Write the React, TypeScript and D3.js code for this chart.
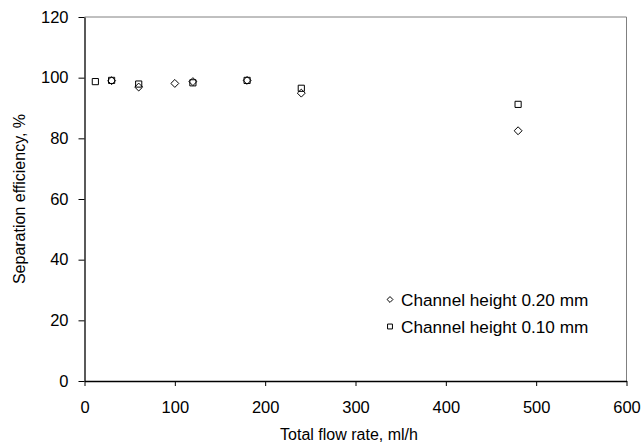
import React, { useEffect, useRef } from "react";
import * as d3 from "d3";

const flow020 = [30, 60, 100, 120, 180, 240, 480];
const eff020 = [99.0, 96.9, 98.1, 98.7, 99.1, 94.9, 82.5];
const flow010 = [12, 30, 60, 120, 180, 240, 480];
const eff010 = [98.7, 99.1, 97.9, 98.3, 99.1, 96.5, 91.2];
const xTicks = [0, 100, 200, 300, 400, 500, 600];
const yTicks = [0, 20, 40, 60, 80, 100, 120];
const legendLabels = ["Channel height 0.20 mm", "Channel height 0.10 mm"];

export default function App() {
  const ref = useRef<SVGSVGElement>(null);

  useEffect(() => {
    const svg = d3.select(ref.current);
    svg.selectAll("*").remove();
    const font = "Liberation Sans, Arial, sans-serif";

    const x = d3.scaleLinear().domain([0, 600]).range([84.5, 626.5]);
    const y = d3.scaleLinear().domain([0, 120]).range([381, 17]);

    // frame: top and right in grey
    svg.append("line").attr("x1", x(0)).attr("x2", x(600)).attr("y1", y(120)).attr("y2", y(120))
      .attr("stroke", "#808080").attr("stroke-width", 1);
    svg.append("line").attr("x1", x(600)).attr("x2", x(600)).attr("y1", y(120)).attr("y2", y(0))
      .attr("stroke", "#808080").attr("stroke-width", 1);

    const xAxis = svg.append("g").attr("transform", `translate(0,${y(0)})`)
      .call(d3.axisBottom(x).tickValues(xTicks).tickSize(5).tickPadding(15).tickSizeOuter(0));
    xAxis.select(".domain").attr("stroke", "#000").attr("stroke-width", 1.3);
    xAxis.selectAll(".tick line").attr("stroke", "#000");
    xAxis.selectAll("text").attr("font-family", font).attr("font-size", 16.5).attr("fill", "#000");

    const yAxis = svg.append("g").attr("transform", `translate(${x(0)},0)`)
      .call(d3.axisLeft(y).tickValues(yTicks).tickSize(6).tickPadding(10).tickSizeOuter(0));
    yAxis.select(".domain").attr("stroke", "#000").attr("stroke-width", 1.3);
    yAxis.selectAll(".tick line").attr("stroke", "#000");
    yAxis.selectAll("text").attr("font-family", font).attr("font-size", 16.5).attr("fill", "#000");

    const diamond = d3.symbol().type(d3.symbolDiamond2).size(40);
    const square = d3.symbol().type(d3.symbolSquare).size(38);

    const d010 = flow010.map((f, i) => ({ f, e: eff010[i] }));
    const d020 = flow020.map((f, i) => ({ f, e: eff020[i] }));

    svg.append("g").selectAll("path").data(d010).join("path")
      .attr("d", square)
      .attr("transform", (d) => `translate(${x(d.f)},${y(d.e)})`)
      .attr("fill", "none").attr("stroke", "#000").attr("stroke-width", 1);

    svg.append("g").selectAll("path").data(d020).join("path")
      .attr("d", diamond)
      .attr("transform", (d) => `translate(${x(d.f)},${y(d.e)})`)
      .attr("fill", "none").attr("stroke", "#000").attr("stroke-width", 1);

    // legend
    const legDiamond = d3.symbol().type(d3.symbolDiamond2).size(22);
    const legSquare = d3.symbol().type(d3.symbolSquare).size(24);
    const leg = svg.append("g");
    [legDiamond, legSquare].forEach((sym, i) => {
      const ly = 299.5 + i * 27;
      leg.append("path").attr("d", sym).attr("transform", `translate(390,${ly})`)
        .attr("fill", "none").attr("stroke", "#000").attr("stroke-width", 1);
      leg.append("text").attr("x", 401).attr("y", ly + 6).text(legendLabels[i])
        .attr("font-family", font).attr("font-size", 17.2).attr("fill", "#000");
    });

    svg.append("text").attr("x", 349).attr("y", 440).attr("text-anchor", "middle")
      .attr("font-family", font).attr("font-size", 16).text("Total flow rate, ml/h");
    svg.append("text").attr("transform", "translate(25,199) rotate(-90)").attr("text-anchor", "middle")
      .attr("font-family", font).attr("font-size", 16).text("Separation efficiency, %");
  }, []);

  return (
    <svg ref={ref} width={642} height={447} style={{ position: "absolute", left: 0, top: 0, background: "#fff" }} />
  );
}
